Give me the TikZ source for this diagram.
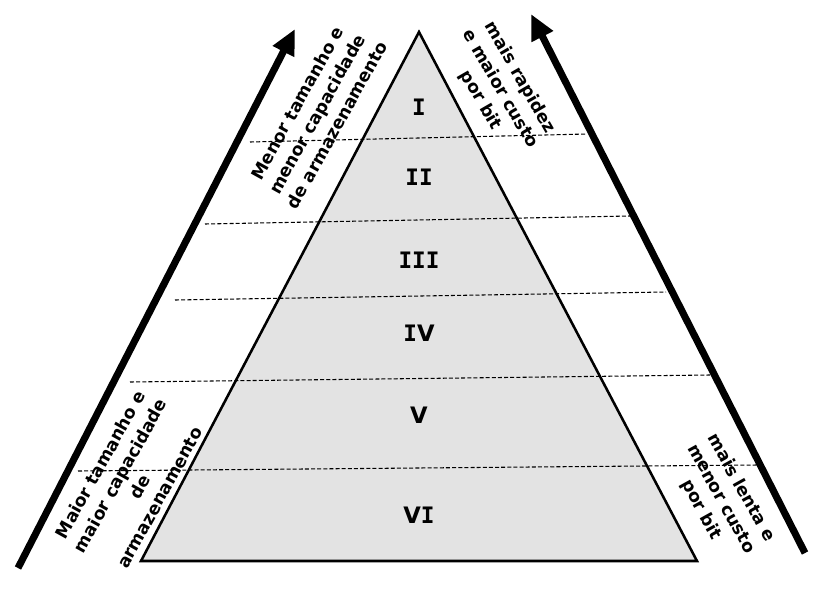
\documentclass[tikz,border=0pt]{standalone}
\usepackage{fontspec}
\setmainfont{DejaVu Sans}
\newfontfamily\monofam{DejaVu Sans Mono}
\usetikzlibrary{arrows.meta}
\newcommand\rI{{\monofam\bfseries I}}
\definecolor{pyrfill}{RGB}{227,227,227}
\begin{document}
\begin{tikzpicture}[x=0.75pt,y=-0.75pt,
  lbl/.style={font=\bfseries\fontsize{13}{17}\selectfont, align=center, inner sep=0pt},
  num/.style={font=\bfseries\fontsize{17}{20}\selectfont, inner sep=0pt},
  sepline/.style={line width=0.8pt, dash pattern=on 3pt off 1.6pt},
  bigarrow/.style={line width=5.3pt, -{Triangle[length=19pt,width=17pt]}},
  pyr/.style={line width=1.9pt, line join=miter}]
\useasboundingbox (0,0) rectangle (819,593);
% pyramid corners
\coordinate (apex) at (419,32);
\coordinate (bl) at (141,561);
\coordinate (br) at (697,561);
\fill[pyrfill] (apex) -- (bl) -- (br) -- cycle;
% dashed level lines
\coordinate (d1l) at (250,142); \coordinate (d1r) at (587,134);
\coordinate (d2l) at (205,224); \coordinate (d2r) at (630,216);
\coordinate (d3l) at (175,300); \coordinate (d3r) at (666,292);
\coordinate (d4l) at (130,382); \coordinate (d4r) at (710,375);
\coordinate (d5l) at (78,471);  \coordinate (d5r) at (758,465);
\draw[sepline] (d1l) -- (d1r);
\draw[sepline] (d2l) -- (d2r);
\draw[sepline] (d3l) -- (d3r);
\draw[sepline] (d4l) -- (d4r);
\draw[sepline] (d5l) -- (d5r);
\draw[pyr] (apex) -- (bl) -- (br) -- cycle;
% level numbers
\node[num] (n1) at (419,107) {\rI};
\node[num] (n2) at (419,177) {\rI\rI};
\node[num] (n3) at (419,260) {\rI\rI\rI};
\node[num] (n4) at (419,333) {\rI V};
\node[num] (n5) at (419,415) {V};
\node[num] (n6) at (419,515) {V\rI};
% arrows
\coordinate (la0) at (18,568); \coordinate (la1) at (295,29);
\coordinate (ra0) at (805,553); \coordinate (ra1) at (531,14);
\draw[bigarrow] (la0) -- (la1);
\draw[bigarrow] (ra0) -- (ra1);
% labels
\node[lbl, rotate=61] (t1) at (317,114) {Menor tamanho e\\menor capacidade\\de armazenamento};
\node[lbl, rotate=61] (t2) at (130,481) {Maior tamanho e\\maior capacidade\\de\\armazenamento};
\node[lbl, rotate=-60] (t3) at (500,89) {mais rapidez\\e maior custo\\por bit};
\node[lbl, rotate=-61] (t4) at (721,499) {mais lenta e\\menor custo\\por bit};
\end{tikzpicture}
\end{document}
